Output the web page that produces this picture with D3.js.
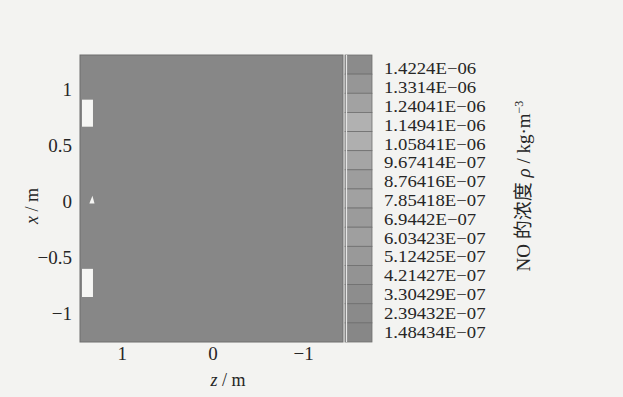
<!DOCTYPE html>
<html>
<head>
<meta charset="utf-8">
<script src="https://cdn.jsdelivr.net/npm/d3@7"></script>
<style>
  body { margin: 0; background: #f3f3f1; }
  svg text { font-family: "Liberation Serif", "Noto Sans CJK SC", serif; fill: #262626; }
</style>
</head>
<body>
<div class="chart"></div>
<script>
var svgWidth = 623;
var svgHeight = 397;

// contour levels of the NO density (kg/m^3), top of colour bar first
var levels = [1.4224e-06, 1.3314e-06, 1.24041e-06, 1.14941e-06, 1.05841e-06,
  9.67414e-07, 8.76416e-07, 7.85418e-07, 6.9442e-07, 6.03423e-07,
  5.12425e-07, 4.21427e-07, 3.30429e-07, 2.39432e-07, 1.48434e-07];
var levelLabels = ["1.4224E-06", "1.3314E-06", "1.24041E-06", "1.14941E-06", "1.05841E-06",
  "9.67414E-07", "8.76416E-07", "7.85418E-07", "6.9442E-07", "6.03423E-07",
  "5.12425E-07", "4.21427E-07", "3.30429E-07", "2.39432E-07", "1.48434E-07"];
// grey tones of the printed colour bar
var levelGreys = ["#8b8b8b", "#969696", "#a2a2a2", "#b1b1b1", "#afafaf",
  "#a5a5a5", "#9d9d9d", "#a1a1a1", "#9b9b9b", "#9f9f9f",
  "#999999", "#939393", "#8d8d8d", "#8a8a8a", "#878787"];

// computed region (z horizontal, x vertical, metres); the field sits at the lowest level
var zExtent = [1.46, -1.44];
var xExtent = [-1.26, 1.31];
var fieldValue = 1.48434e-07;

// inlet openings on the left wall (not part of the field)
var inlets = [
  { z0: 1.46, z1: 1.317, x0: 0.668, x1: 0.91 },
  { z0: 1.46, z1: 1.317, x0: -0.857, x1: -0.605 }
];
var nozzle = { z0: 1.39, z1: 1.30, x0: -0.02, x1: 0.05 };

var xTicks = [1, 0.5, 0, -0.5, -1];
var zTicks = [1, 0, -1];

var margin = { top: 55, left: 80 };
var width = 263;
var height = 287;

var svg = d3.select(".chart").append("svg")
  .attr("width", svgWidth)
  .attr("height", svgHeight);

var chartGroup = svg.append("g")
  .attr("transform", `translate(${margin.left}, ${margin.top})`);

var zScale = d3.scaleLinear().domain(zExtent).range([0, width]);
var xScale = d3.scaleLinear().domain(xExtent).range([height, 0]);

var colour = d3.scaleOrdinal().domain(levels).range(levelGreys);

var minus = s => String(s).replace("-", "\u2212");

// field
chartGroup.append("rect")
  .attr("x", zScale(zExtent[0]))
  .attr("y", xScale(xExtent[1]))
  .attr("width", zScale(zExtent[1]) - zScale(zExtent[0]))
  .attr("height", xScale(xExtent[0]) - xScale(xExtent[1]))
  .attr("fill", colour(fieldValue));

// inlets
chartGroup.selectAll(".inlet")
  .data(inlets)
  .enter()
  .append("rect")
  .attr("class", "inlet")
  .attr("x", d => zScale(d.z0) + 2)
  .attr("y", d => xScale(d.x1))
  .attr("width", d => zScale(d.z1) - zScale(d.z0) - 2)
  .attr("height", d => xScale(d.x0) - xScale(d.x1))
  .attr("fill", "#f6f6f4");

chartGroup.append("path")
  .attr("d", `M${zScale(nozzle.z0) + 3},${xScale(nozzle.x0)} L${zScale(nozzle.z1)},${xScale(nozzle.x0)} L${(zScale(nozzle.z0) + zScale(nozzle.z1)) / 2 + 2},${xScale(nozzle.x1)} Z`)
  .attr("fill", "#f6f6f4");

// frame
chartGroup.append("rect")
  .attr("width", width)
  .attr("height", height)
  .attr("fill", "none")
  .attr("stroke", "#6e6e6e")
  .attr("stroke-width", 1);

// axes
var yAxis = chartGroup.append("g")
  .call(d3.axisLeft(xScale).tickValues(xTicks).tickSize(0).tickPadding(8).tickFormat(minus));
var xAxis = chartGroup.append("g")
  .attr("transform", `translate(0, ${height})`)
  .call(d3.axisBottom(zScale).tickValues(zTicks).tickSize(0).tickPadding(5).tickFormat(minus));

[xAxis, yAxis].forEach(function(a) {
  a.select(".domain").remove();
  a.selectAll("text").attr("font-size", 19).attr("font-family", null).attr("fill", null);
});

svg.append("text")
  .attr("transform", "translate(38, 206) rotate(-90)")
  .attr("text-anchor", "middle")
  .attr("font-size", 18)
  .html('<tspan font-style="italic">x</tspan> / m');

svg.append("text")
  .attr("x", 228)
  .attr("y", 386)
  .attr("text-anchor", "middle")
  .attr("font-size", 18)
  .html('<tspan font-style="italic">z</tspan> / m');

// colour bar
var barX = 345;
var barW = 27;
var bandScale = d3.scaleBand().domain(levels).range([55, 342]);

svg.selectAll(".band")
  .data(levels)
  .enter()
  .append("rect")
  .attr("class", "band")
  .attr("x", barX)
  .attr("y", d => bandScale(d))
  .attr("width", barW)
  .attr("height", bandScale.bandwidth())
  .attr("fill", d => colour(d))
  .attr("stroke", "#6f6f6f")
  .attr("stroke-width", 0.8);

svg.append("line")
  .attr("x1", barX + 1.5).attr("x2", barX + 1.5)
  .attr("y1", 55).attr("y2", 342)
  .attr("stroke", "#e6e6e6")
  .attr("stroke-width", 1.2);

var labelScale = d3.scalePoint().domain(levelLabels).range([68.5, 332]);

// labels are packed tightly in the print: smaller font, stretched sideways
svg.selectAll(".level")
  .data(levelLabels)
  .enter()
  .append("text")
  .attr("class", "level")
  .attr("x", 384)
  .attr("y", d => labelScale(d))
  .attr("dy", "0.36em")
  .attr("font-size", 16)
  .text(d => minus(d))
  .each(function() {
    var w = this.getComputedTextLength();
    d3.select(this).attr("textLength", w * 1.17).attr("lengthAdjust", "spacingAndGlyphs");
  });

svg.append("text")
  .attr("transform", "translate(523, 186) rotate(-90)")
  .attr("text-anchor", "middle")
  .attr("dy", "0.35em")
  .attr("font-size", 19)
  .html('NO 的浓度 <tspan font-style="italic">ρ</tspan> / kg·m<tspan font-size="12" dy="-7">−3</tspan>');
</script>
</body>
</html>
